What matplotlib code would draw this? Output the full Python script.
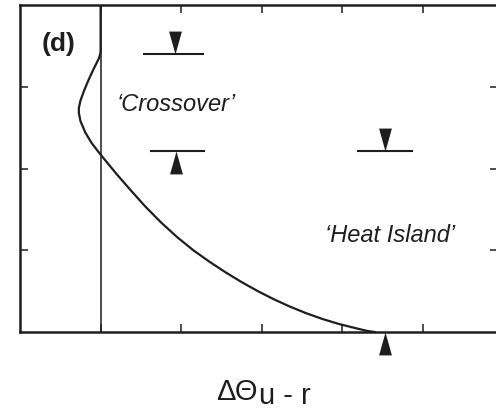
import matplotlib.pyplot as plt
from matplotlib.path import Path

plt.rcParams['font.family'] = ['Liberation Sans', 'DejaVu Sans']

# profile of the urban-rural temperature difference with height
dtheta = [0.0, 0.0, -0.005, -0.02, -0.05, -0.10, -0.16, -0.21, -0.25, -0.27,
          -0.27, -0.25, -0.19, -0.11, -0.04, 0.0, 0.1, 0.2, 0.35, 0.55, 0.75,
          0.95, 1.15, 1.35, 1.55, 1.75, 1.95, 2.15, 2.35, 2.55, 2.75, 2.95,
          3.15, 3.30, 3.40]
height = [4.0, 3.44, 3.40, 3.35, 3.29, 3.19, 3.06, 2.94, 2.83, 2.74,
          2.68, 2.58, 2.44, 2.31, 2.22, 2.17, 2.05, 1.93, 1.76, 1.54, 1.34,
          1.16, 1.00, 0.86, 0.73, 0.61, 0.50, 0.40, 0.31, 0.23, 0.16, 0.10,
          0.05, 0.015, 0.0]

# level markers (bar + arrowhead)
bar_y = [3.40, 2.22, 2.22]
bar_x0 = [0.53, 0.61, 3.18]
bar_x1 = [1.28, 1.30, 3.88]
down_x = [0.92, 3.53]
down_y = [3.40, 2.22]
up_x = [0.94, 3.53]
up_y = [2.22, 0.0]

ink = '#1e1e1e'

fig = plt.figure(figsize=(4.96, 4.10), dpi=100)
ax = fig.add_axes([20/496, 77/410, 478/496, 327/410])
ax.set_xlim(-1.0, 4.93)
ax.set_ylim(0, 4.0)

ax.axvline(0, color=ink, lw=1.1)
ax.plot(dtheta, height, color=ink, lw=1.6, solid_joinstyle='round')

ax.hlines(bar_y, bar_x0, bar_x1, color=ink, lw=1.5)
down_mk = Path([(0, 0), (-0.28, 1), (0.28, 1), (0, 0)])
up_mk = Path([(0, 0), (-0.28, -1), (0.28, -1), (0, 0)])
ax.plot(down_x, down_y, ls='none', marker=down_mk, ms=33, color=ink, mew=0)
ax.plot(up_x, up_y, ls='none', marker=up_mk, ms=33, color=ink, mew=0,
        clip_on=False)

ax.text(-0.52, 3.54, '(d)', fontsize=19, fontweight='bold', color=ink,
        ha='center', va='center')
ax.text(0.94, 2.79, "\u2018Crossover\u2019", fontsize=17, style='italic',
        color=ink, ha='center', va='center')
ax.text(3.59, 1.19, "\u2018Heat Island\u2019", fontsize=17, style='italic',
        color=ink, ha='center', va='center')

fig.text(216/496, 1 - 400/410, '\u0394\u0398', fontsize=21, color=ink,
         ha='left', va='baseline')
fig.text(259/496, 1 - 404/410, 'u - r', fontsize=21, color=ink,
         ha='left', va='baseline')

ax.set_xticks([0, 1, 2, 3, 4])
ax.set_yticks([1, 2, 3])
ax.tick_params(direction='in', length=6, width=1.1, color=ink,
               top=True, right=True, labelbottom=False, labelleft=False)
for s in ax.spines.values():
    s.set_linewidth(1.8)
    s.set_color(ink)

fig.savefig('out.png', dpi=100)
